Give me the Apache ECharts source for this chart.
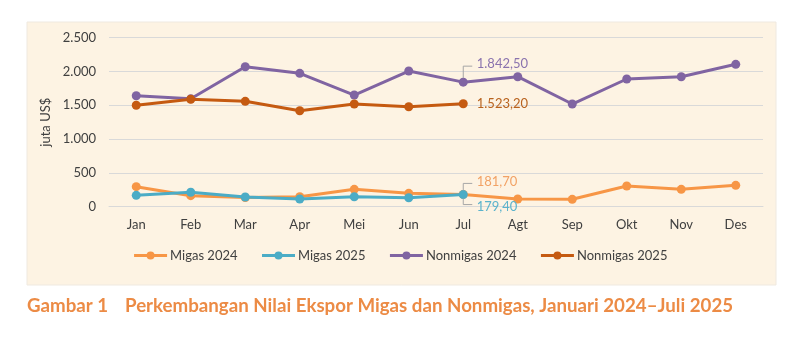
<!DOCTYPE html>
<html>
<head>
<meta charset="utf-8">
<script src="https://cdn.jsdelivr.net/npm/echarts@6/dist/echarts.min.js"></script>
<style>
  html, body { margin: 0; padding: 0; background: #ffffff; }
  #chart { width: 800px; height: 343px; }
</style>
</head>
<body>
<div id="chart"></div>
<script>
// Nilai ekspor bulanan (juta US$)
var months = ['Jan', 'Feb', 'Mar', 'Apr', 'Mei', 'Jun', 'Jul', 'Agt', 'Sep', 'Okt', 'Nov', 'Des'];
var migas2024 = [296, 163, 135, 148, 257, 198, 181.7, 114, 109, 306, 257, 316];
var migas2025 = [168, 213, 143, 114, 148, 133, 179.4];
var nonmigas2024 = [1642, 1596, 2071, 1973, 1652, 2007, 1842.5, 1923, 1519, 1889, 1923, 2106];
var nonmigas2025 = [1500, 1589, 1559, 1420, 1519, 1479, 1523.2];
var yTicks = [0, 500, 1000, 1500, 2000, 2500];
var seriesNames = ['Migas 2024', 'Migas 2025', 'Nonmigas 2024', 'Nonmigas 2025'];

var colors = ['#F79646', '#4BACC6', '#8064A2', '#C55A11'];
var labelColors = ['#F2A265', '#5BB3CC', '#8A73AE', '#B8621E'];
var FONT = 'Lato, "Open Sans", sans-serif';
var LABEL_INDEX = 6; // Jul: nilai terakhir 2025 yang diberi label

// Format angka gaya Indonesia: titik ribuan, koma desimal
function fmtId(v, decimals) {
  var s = Number(v).toFixed(decimals);
  var parts = s.split('.');
  parts[0] = parts[0].replace(/\B(?=(\d{3})+(?!\d))/g, '.');
  return decimals > 0 ? parts[0] + ',' + parts[1] : parts[0];
}

// label offsets (px) and leader-line direction for each series' Jul label
var labelStyle = [
  { offsetY: -13, leader: -1 },
  { offsetY: 12, leader: 1 },
  { offsetY: -18, leader: -1 },
  { offsetY: 0, leader: 0 }
];

function buildData(values, idx) {
  return values.map(function (v, i) {
    if (i !== LABEL_INDEX) return v;
    return {
      value: v,
      label: {
        show: true,
        position: 'right',
        distance: 9,
        offset: [0, labelStyle[idx].offsetY],
        formatter: function (p) { return fmtId(p.value, 2); },
        color: labelColors[idx],
        fontFamily: FONT,
        fontSize: 13
      }
    };
  });
}

var valueSets = [migas2024, migas2025, nonmigas2024, nonmigas2025];

var lineSeries = valueSets.map(function (vals, idx) {
  return {
    name: seriesNames[idx],
    type: 'line',
    data: buildData(vals, idx),
    symbol: 'circle',
    symbolSize: 9,
    lineStyle: { width: 3, color: colors[idx] },
    itemStyle: { color: colors[idx] },
    z: 2 + idx,
    animation: false
  };
});

// Bracket-shaped leader lines from the labelled Jul points to their labels
var leaderData = [];
valueSets.forEach(function (vals, idx) {
  if (labelStyle[idx].leader !== 0) {
    leaderData.push([LABEL_INDEX, vals[LABEL_INDEX], idx]);
  }
});

var leaderSeries = {
  type: 'custom',
  data: leaderData,
  silent: true,
  z: 10,
  animation: false,
  renderItem: function (params, api) {
    var p = api.coord([api.value(0), api.value(1)]);
    var st = labelStyle[api.value(2)];
    var dir = st.leader;
    var yEnd = p[1] + st.offsetY - dir * 2;
    return {
      type: 'polyline',
      shape: { points: [[p[0], p[1] + dir * 4], [p[0], yEnd], [p[0] + 9, yEnd]] },
      style: { stroke: '#A6A6A6', lineWidth: 1, fill: null }
    };
  }
};

var chart = echarts.init(document.getElementById('chart'), null, { renderer: 'canvas' });

chart.setOption({
  backgroundColor: '#ffffff',
  animation: false,
  textStyle: { fontFamily: FONT },
  graphic: [
    {
      type: 'rect',
      shape: { x: 27, y: 22, width: 749, height: 263 },
      style: { fill: '#FDF3E3', stroke: '#EFE9E0', lineWidth: 1 },
      z: -10,
      silent: true
    },
    {
      type: 'text',
      left: 27,
      top: 296,
      style: {
        text: 'Gambar 1',
        fill: '#EC8B45',
        font: 'bold 18.7px Lato, sans-serif'
      }
    },
    {
      type: 'text',
      left: 125,
      top: 296,
      style: {
        text: 'Perkembangan Nilai Ekspor Migas dan Nonmigas, Januari 2024\u2013Juli 2025',
        fill: '#EC8B45',
        font: 'bold 18.7px Lato, sans-serif'
      }
    }
  ],
  grid: { left: 109, right: 37, top: 37.7, bottom: 136.3, containLabel: false },
  legend: {
    data: seriesNames,
    left: 'center',
    top: 244,
    itemWidth: 33,
    itemHeight: 10,
    itemGap: 23,
    itemStyle: { borderWidth: 0 },
    lineStyle: { width: 3 },
    textStyle: { color: '#404040', fontSize: 13, fontFamily: FONT, padding: [0, 0, 0, -2] }
  },
  xAxis: {
    type: 'category',
    data: months,
    boundaryGap: true,
    axisLine: { show: true, lineStyle: { color: '#D9D9D9' } },
    axisTick: { show: false },
    axisLabel: { color: '#404040', fontSize: 13, margin: 12, fontFamily: FONT }
  },
  yAxis: {
    type: 'value',
    min: yTicks[0],
    max: yTicks[yTicks.length - 1],
    interval: yTicks[1] - yTicks[0],
    name: 'juta US$',
    nameLocation: 'middle',
    nameRotate: 90,
    nameGap: 52,
    nameTextStyle: { color: '#404040', fontSize: 13, fontFamily: FONT },
    axisLine: { show: false },
    axisTick: { show: false },
    splitLine: { lineStyle: { color: '#D9D9D9', width: 1 } },
    axisLabel: {
      color: '#404040',
      fontSize: 13,
      margin: 13,
      fontFamily: FONT,
      formatter: function (v) { return fmtId(v, 0); }
    }
  },
  series: lineSeries.concat([leaderSeries])
});
</script>
</body>
</html>
